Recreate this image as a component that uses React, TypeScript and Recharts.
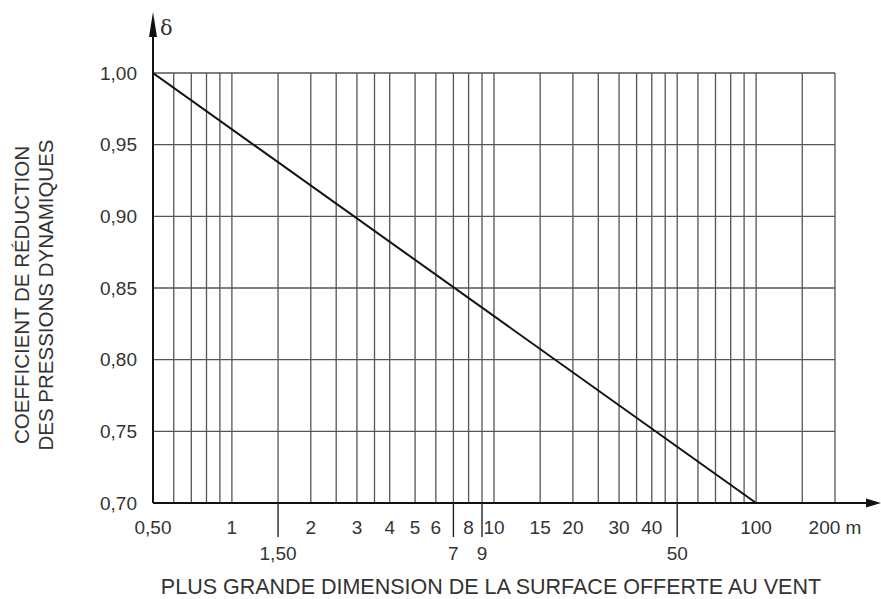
import React from 'react';
import { LineChart, Line, XAxis, YAxis, CartesianGrid } from 'recharts';

// Log-scale gridlines (metres)
const xGrid = [
    0.5, 0.6, 0.7, 0.8, 0.9, 1, 1.5, 2, 2.5, 3, 3.5, 4, 5, 6, 7, 8, 9,
    10, 15, 20, 25, 30, 35, 40, 45, 50, 60, 70, 80, 90, 100, 150, 200
];
const upperLabels: Record<string, string> = {
    '0.5': '0,50', '1': '1', '2': '2', '3': '3', '4': '4', '5': '5', '6': '6', '8': '8',
    '10': '10', '15': '15', '20': '20', '30': '30', '40': '40', '100': '100', '200': '200 m'
};
const lowerLabels: Record<string, string> = { '1.5': '1,50', '7': '7', '9': '9', '50': '50' };

const yTicks = [0.7, 0.75, 0.8, 0.85, 0.9, 0.95, 1.0];

const dimension = [0.5, 100];
const delta = [1.0, 0.7];

const data = dimension.map((x, i) => ({ x, delta: delta[i] }));

const W = 881;
const H = 599;
const xAxisHeight = 30;
const margin = { top: 73, right: 46, bottom: 96 - xAxisHeight, left: 0 };
const yAxisWidth = 153;
const FONT = '"Liberation Sans", Arial, sans-serif';
const TEXT = '#333';

const XTick = (props: any) => {
    const { x, y, payload } = props;
    const key = String(payload.value);
    const up = upperLabels[key];
    const low = lowerLabels[key];
    return (
        <g>
            {up && (
                <text x={x} y={y + 31} textAnchor="middle" fontSize={19} fill={TEXT} fontFamily={FONT}>
                    {up}
                </text>
            )}
            {low && (
                <>
                    <line x1={x} y1={y} x2={x} y2={y + 34} stroke="#222" strokeWidth={1.4} />
                    <text x={x} y={y + 57} textAnchor="middle" fontSize={19} fill={TEXT} fontFamily={FONT}>
                        {low}
                    </text>
                </>
            )}
        </g>
    );
};

export default function App() {
    const plotLeft = margin.left + yAxisWidth;
    const plotRight = W - margin.right;
    const plotBottom = H - margin.bottom - xAxisHeight;

    return (
        <div style={{ position: 'relative', width: W, height: H }}>
            <style>{'body{margin:0}'}</style>
            <LineChart width={W} height={H} data={data} margin={margin}>
                <CartesianGrid stroke="#555" strokeWidth={1.3} />
                <XAxis
                    dataKey="x"
                    type="number"
                    scale="log"
                    domain={[0.5, 200]}
                    ticks={xGrid}
                    interval={0}
                    allowDataOverflow
                    height={xAxisHeight}
                    tickSize={0}
                    tickMargin={0}
                    tickLine={false}
                    tick={<XTick />}
                    axisLine={{ stroke: '#111', strokeWidth: 2 }}
                />
                <YAxis
                    type="number"
                    domain={[0.7, 1]}
                    ticks={yTicks}
                    interval={0}
                    width={yAxisWidth}
                    tickSize={0}
                    tickMargin={16}
                    tickLine={false}
                    tickFormatter={(v: number) => v.toFixed(2).replace('.', ',')}
                    tick={{ fontSize: 19, fill: TEXT, fontFamily: FONT }}
                    axisLine={{ stroke: '#111', strokeWidth: 2 }}
                />
                <Line
                    type="linear"
                    dataKey="delta"
                    stroke="#111"
                    strokeWidth={2}
                    dot={false}
                    isAnimationActive={false}
                />
            </LineChart>
            <svg
                width={W}
                height={H}
                style={{ position: 'absolute', left: 0, top: 0, pointerEvents: 'none' }}
            >
                {/* axis arrows */}
                <line x1={plotLeft} y1={margin.top} x2={plotLeft} y2={30} stroke="#111" strokeWidth={2} />
                <polygon points={`${plotLeft},12 ${plotLeft - 4},37 ${plotLeft + 4},37`} fill="#111" />
                <line x1={plotRight} y1={plotBottom} x2={868} y2={plotBottom} stroke="#111" strokeWidth={2} />
                <polygon points={`881,${plotBottom} 866,${plotBottom - 4.5} 866,${plotBottom + 4.5}`} fill="#111" />
                <text x={160} y={35} fontSize={21} fill={TEXT} fontFamily="'DejaVu Serif', serif">δ</text>
                {/* axis titles */}
                <g transform="translate(0,295) rotate(-90)">
                    <text x={0} y={29} textAnchor="middle" fontSize={20.5} fill={TEXT} fontFamily={FONT}>
                        COEFFICIENT DE RÉDUCTION
                    </text>
                    <text x={0} y={53} textAnchor="middle" fontSize={20.5} fill={TEXT} fontFamily={FONT}>
                        DES PRESSIONS DYNAMIQUES
                    </text>
                </g>
                <text x={491} y={594} textAnchor="middle" fontSize={21.5} fill={TEXT} fontFamily={FONT}>
                    PLUS GRANDE DIMENSION DE LA SURFACE OFFERTE AU VENT
                </text>
            </svg>
        </div>
    );
}
